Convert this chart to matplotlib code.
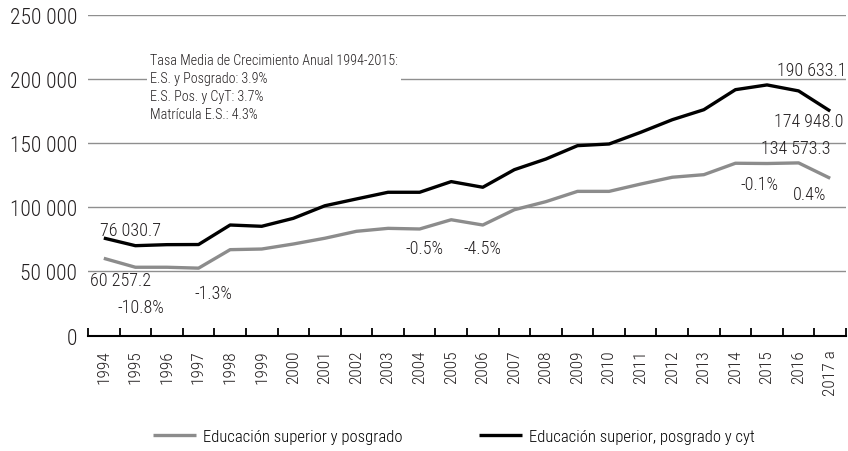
import numpy as np
import matplotlib
matplotlib.use("Agg")
import matplotlib.pyplot as plt
from matplotlib.ticker import FuncFormatter, FixedLocator

plt.rcParams['font.family'] = ['Roboto Condensed', 'Liberation Sans Narrow', 'DejaVu Sans']
plt.rcParams['font.weight'] = 'light'

years = ['1994', '1995', '1996', '1997', '1998', '1999', '2000', '2001', '2002',
         '2003', '2004', '2005', '2006', '2007', '2008', '2009', '2010', '2011',
         '2012', '2013', '2014', '2015', '2016', '2017 a']

# Educación superior y posgrado
es_posgrado = [60257.2, 53300, 53300, 52600, 67000, 67500, 71400, 75900, 81300,
               83600, 83100, 90300, 86200, 98100, 104400, 112400, 112400, 118100,
               123400, 125400, 134300, 134100, 134573.3, 122600]

# Educación superior, posgrado y cyt
es_pos_cyt = [76030.7, 70100, 70900, 71000, 86200, 85200, 91400, 101200, 106500,
              111700, 111700, 120000, 115600, 129300, 137600, 148000, 149300, 158400,
              168200, 176000, 191600, 195300, 190633.1, 174948.0]

# etiquetas (texto, x, y) en coordenadas de datos
labels = [
    ('76 030.7', 0.86, 82300),
    ('60 257.2', 0.54, 43400),
    ('-10.8%', 1.18, 22400),
    ('-1.3%', 3.46, 33200),
    ('-0.5%', 10.16, 68300),
    ('-4.5%', 12.0, 68300),
    ('190 633.1', 22.41, 206900),
    ('174 948.0', 22.32, 167200),
    ('134 573.3', 21.9, 146200),
    ('-0.1%', 20.77, 118100),
    ('0.4%', 22.35, 110400),
]

box_text = ("Tasa Media de Crecimiento Anual 1994-2015:\n"
            "E.S. y Posgrado: 3.9%\n"
            "E.S. Pos. y CyT: 3.7%\n"
            "Matrícula E.S.: 4.3%")

fig = plt.figure(figsize=(8.48, 4.52), dpi=100)
ax = fig.add_axes([0.1038, 0.2551, 0.8938, 0.7102])

x = np.arange(len(years))
ax.plot(x, es_posgrado, color='#8c8c8c', lw=2.4, label='Educación superior y posgrado',
        solid_capstyle='butt')
ax.plot(x, es_pos_cyt, color='black', lw=2.4, label='Educación superior, posgrado y cyt',
        solid_capstyle='butt')

ax.set_xlim(-0.5, len(years) - 0.5)
ax.set_ylim(0, 250000)
ax.set_yticks(np.arange(0, 250001, 50000))
ax.yaxis.set_major_formatter(FuncFormatter(lambda v, p: f"{int(v):,}".replace(',', ' ')))
ax.tick_params(axis='y', length=0, pad=8, labelsize=15.5, colors='#231f20')
ax.grid(axis='y', color='#8f8f8f', lw=1.0)
ax.set_axisbelow(True)

ax.set_xticks(x)
ax.set_xticklabels(years, rotation=90)
ax.tick_params(axis='x', which='major', length=0, pad=10, labelsize=12.5, colors='#231f20')
ax.xaxis.set_minor_locator(FixedLocator(np.arange(-0.5, len(years), 1)))
ax.tick_params(axis='x', which='minor', direction='in', length=6, width=1.3, color='black')

for s in ['top', 'right', 'left']:
    ax.spines[s].set_visible(False)
ax.spines['bottom'].set_color('black')
ax.spines['bottom'].set_linewidth(1.5)

for txt, lx, ly in labels:
    ax.text(lx, ly, txt, ha='center', va='center', fontsize=13, color='#231f20')

fig.text(0.177, 1 - 54 / 452, box_text, ha='left', va='top', fontsize=10.2,
         linespacing=1.35, color='#231f20',
         bbox=dict(facecolor='white', edgecolor='none', pad=2))

fig.legend(loc='center', bbox_to_anchor=(0.535, 0.033), ncol=2, frameon=False,
           fontsize=12, handlelength=2.6, columnspacing=4.6, handletextpad=0.4)

fig.savefig('out.png', dpi=100)
